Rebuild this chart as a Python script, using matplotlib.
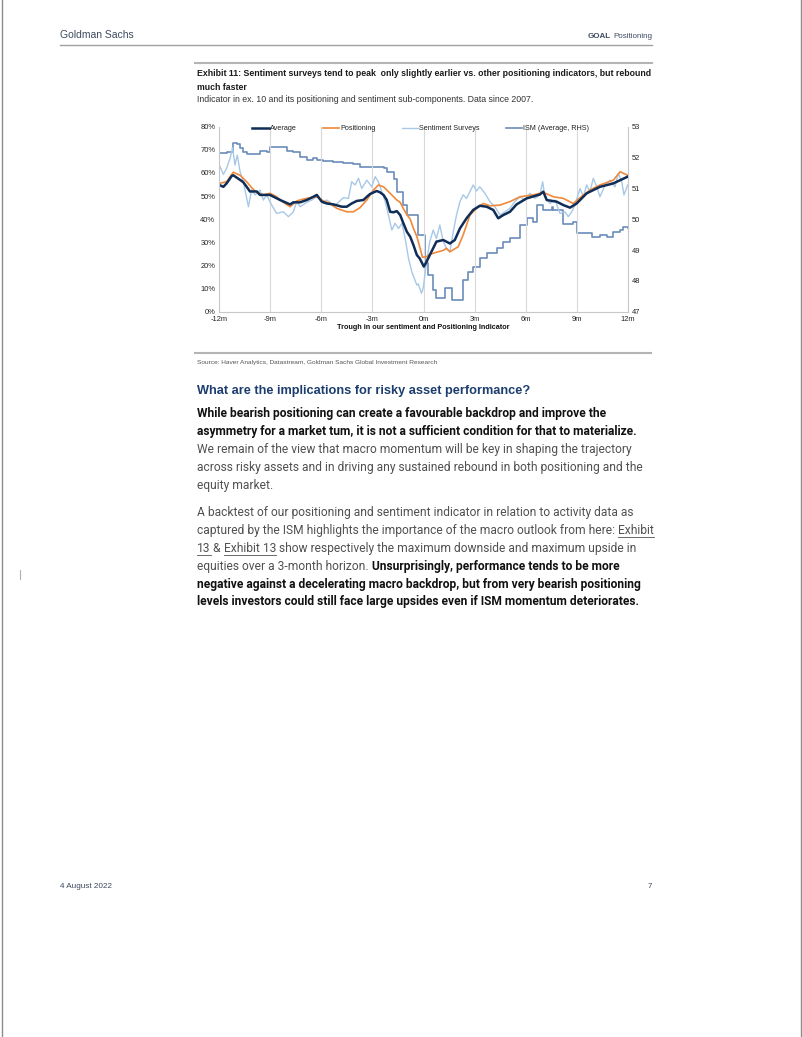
import matplotlib
matplotlib.use('Agg')
import matplotlib.pyplot as plt
from matplotlib.lines import Line2D
from matplotlib.ticker import FuncFormatter

# ---- chart data (months around trough, values) ----
avg_m = [-12.00, -11.76, -11.57, -11.27, -11.18, -10.78, -10.59, -10.39, -10.20, -9.80,
         -9.61, -9.02, -8.43, -7.84, -7.65, -7.25, -6.86, -6.47, -6.27, -5.98,
         -5.69, -5.29, -4.80, -4.51, -4.22, -3.92, -3.53, -3.33, -3.14, -2.75,
         -2.55, -2.35, -2.16, -1.96, -1.76, -1.57, -1.37, -1.18, -0.98, -0.78,
         -0.59, -0.39, -0.22, 0.02, 0.18, 0.37, 0.76, 1.16, 1.55, 1.84,
         2.14, 2.53, 2.92, 3.31, 3.71, 4.10, 4.39, 4.69, 5.08, 5.47,
         6.06, 6.84, 7.04, 7.24, 7.82, 8.22, 8.61, 9.00, 9.59, 10.37,
         11.16, 12.00]
avg_v = [54.8, 54.0, 55.5, 58.7, 59.0, 57.0, 56.0, 54.0, 52.0, 52.0,
         50.5, 50.5, 48.3, 46.4, 47.3, 47.3, 48.3, 49.7, 50.5, 47.6,
         46.8, 46.4, 45.4, 45.4, 46.8, 47.9, 48.3, 49.7, 50.9, 52.2,
         51.6, 50.5, 48.3, 43.2, 43.0, 43.5, 41.8, 38.2, 34.6, 32.4,
         28.8, 24.5, 23.0, 19.5, 21.6, 24.5, 30.3, 31.0, 29.5, 31.0,
         36.0, 40.4, 44.0, 45.8, 45.4, 44.0, 40.4, 41.8, 43.2, 46.4,
         49.0, 50.7, 51.9, 48.3, 47.6, 46.1, 45.0, 46.8, 51.2, 54.0,
         55.5, 58.4]

pos_m = [-12.00, -11.57, -11.18, -10.78, -10.39, -10.10, -9.80, -9.41, -9.02, -8.63,
         -8.24, -7.84, -7.45, -7.06, -6.67, -6.27, -5.88, -5.49, -5.10, -4.51,
         -4.12, -3.73, -3.33, -2.94, -2.65, -2.35, -1.96, -1.57, -1.37, -1.18,
         -0.98, -0.78, -0.59, -0.39, -0.22, -0.06, 0.18, 0.37, 0.76, 1.16,
         1.35, 1.55, 2.04, 2.33, 2.73, 3.12, 3.51, 3.90, 4.49, 5.08,
         5.67, 6.45, 7.04, 7.63, 8.22, 8.80, 9.20, 9.78, 10.37, 11.16,
         11.55, 12.00]
pos_v = [55.5, 56.2, 60.3, 59.0, 56.2, 53.6, 51.6, 50.5, 51.2, 49.7,
         47.3, 45.4, 47.9, 48.7, 49.3, 49.7, 47.9, 46.8, 44.7, 43.2,
         43.2, 45.0, 48.3, 52.6, 54.8, 54.0, 51.2, 48.3, 47.3, 44.5,
         42.0, 40.0, 36.0, 32.5, 28.0, 23.5, 23.8, 24.8, 25.7, 26.5,
         27.4, 25.9, 28.1, 33.2, 41.8, 44.7, 46.8, 45.8, 46.1, 47.6,
         49.7, 50.5, 51.6, 49.7, 49.0, 46.8, 49.3, 52.6, 54.8, 56.9,
         60.5, 59.0]

sent_m = [-12.00, -11.76, -11.57, -11.37, -11.22, -11.08, -10.94, -10.78, -10.59, -10.43,
          -10.29, -10.10, -9.90, -9.61, -9.41, -9.22, -8.92, -8.63, -8.24, -7.94,
          -7.65, -7.45, -7.25, -6.86, -6.57, -6.27, -6.08, -5.88, -5.69, -5.49,
          -5.29, -5.00, -4.71, -4.41, -4.22, -4.02, -3.82, -3.63, -3.33, -3.04,
          -2.84, -2.65, -2.45, -2.25, -2.06, -1.86, -1.67, -1.47, -1.27, -1.08,
          -0.88, -0.69, -0.39, -0.31, -0.12, -0.02, 0.18, 0.37, 0.57, 0.76,
          0.96, 1.16, 1.35, 1.55, 1.75, 1.94, 2.14, 2.33, 2.53, 2.73,
          2.92, 3.12, 3.31, 3.61, 3.90, 4.20, 4.49, 4.78, 5.08, 5.37,
          5.67, 5.96, 6.25, 6.55, 6.84, 7.00, 7.14, 7.43, 7.73, 8.02,
          8.31, 8.51, 8.71, 8.90, 9.20, 9.39, 9.59, 9.78, 9.98, 10.18,
          10.37, 10.67, 10.96, 11.25, 11.45, 11.65, 11.78, 12.00]
sent_v = [63.4, 59.4, 62.0, 66.3, 71.0, 63.4, 67.7, 60.5, 56.2, 50.5,
          45.4, 52.6, 50.5, 52.6, 48.3, 50.5, 46.1, 42.5, 43.2, 41.1,
          43.2, 47.6, 45.4, 47.3, 48.3, 49.7, 49.0, 46.8, 48.3, 47.3,
          45.4, 47.3, 49.3, 49.0, 56.2, 54.8, 57.7, 53.3, 56.9, 54.0,
          58.4, 56.2, 51.9, 47.6, 41.8, 35.3, 38.2, 36.0, 38.2, 31.7,
          23.0, 17.3, 11.5, 12.0, 8.0, 10.0, 21.6, 30.3, 35.3, 31.7,
          37.5, 30.3, 27.4, 25.9, 34.6, 41.8, 47.6, 50.5, 49.0, 51.9,
          54.8, 52.2, 54.0, 51.2, 47.6, 45.4, 41.8, 43.2, 44.7, 47.6,
          49.7, 48.3, 51.2, 49.0, 50.5, 56.2, 49.7, 46.8, 48.3, 42.5,
          43.2, 41.1, 43.2, 46.1, 53.3, 49.7, 54.8, 51.9, 57.7, 54.0,
          49.7, 54.8, 56.9, 54.0, 59.8, 56.2, 50.5, 54.8]

ism_m = [-12.00, -11.57, -11.18, -10.94, -10.78, -10.59, -10.39, -9.61, -9.22, -9.02,
         -8.04, -7.65, -7.25, -6.86, -6.47, -6.27, -5.88, -5.29, -4.71, -4.12,
         -3.73, -2.35, -2.16, -1.76, -1.57, -1.18, -0.98, -0.31, 0.08, 0.27,
         0.57, 0.76, 1.25, 1.65, 2.33, 2.63, 2.92, 3.31, 3.71, 4.29,
         4.69, 5.08, 5.67, 6.06, 6.45, 6.65, 7.04, 7.53, 7.63, 8.22,
         8.80, 9.00, 9.88, 10.37, 10.76, 11.16, 11.55, 11.75, 12.00]
ism_v = [52.14, 52.19, 52.46, 52.43, 52.30, 52.19, 52.10, 52.20, 52.17, 52.33,
         52.20, 52.17, 52.03, 51.92, 51.97, 51.92, 51.89, 51.86, 51.81, 51.78,
         51.70, 51.67, 51.54, 51.32, 50.89, 50.46, 50.14, 49.49, 48.57, 48.19,
         47.70, 47.43, 47.76, 47.38, 48.03, 48.30, 48.46, 48.73, 48.89, 49.05,
         49.27, 49.38, 49.81, 50.03, 49.92, 50.46, 50.30, 50.41, 50.30, 49.86,
         49.92, 49.54, 49.43, 49.49, 49.43, 49.59, 49.65, 49.76, 49.70]

xticks = [-12, -9, -6, -3, 0, 3, 6, 9, 12]
xtick_labels = ['-12m', '-9m', '-6m', '-3m', '0m', '3m', '6m', '9m', '12m']

# ---- page text ----
title_lines = ['Exhibit 11: Sentiment surveys tend to peak  only slightly earlier vs. other positioning indicators, but rebound',
               'much faster']
subtitle = 'Indicator in ex. 10 and its positioning and sentiment sub-components. Data since 2007.'
source = 'Source: Haver Analytics, Datastream, Goldman Sachs Global Investment Research'
heading = 'What are the implications for risky asset performance?'
para1 = [[('While bearish positioning can create a favourable backdrop and improve the', 1, 0)],
         [('asymmetry for a market tum, it is not a sufficient condition for that to materialize.', 1, 0)],
         [('We remain of the view that macro momentum will be key in shaping the trajectory', 0, 0)],
         [('across risky assets and in driving any sustained rebound in both positioning and the', 0, 0)],
         [('equity market.', 0, 0)]]
para2 = [[('A backtest of our positioning and sentiment indicator in relation to activity data as', 0, 0)],
         [('captured by the ISM highlights the importance of the macro outlook from here: ', 0, 0), ('Exhibit', 0, 1)],
         [('13', 0, 1), (' & ', 0, 0), ('Exhibit 13', 0, 1), (' show respectively the maximum downside and maximum upside in', 0, 0)],
         [('equities over a 3-month horizon. ', 0, 0), ('Unsurprisingly, performance tends to be more', 1, 0)],
         [('negative against a decelerating macro backdrop, but from very bearish positioning', 1, 0)],
         [('levels investors could still face large upsides even if ISM momentum deteriorates.', 1, 0)]]

COND = ['Liberation Sans Narrow', 'Liberation Sans', 'DejaVu Sans']
BODY = ['Roboto', 'DejaVu Sans']
CHART = ['Liberation Sans', 'DejaVu Sans']

W, H = 802, 1037
fig = plt.figure(figsize=(W / 100, H / 100), dpi=100)
renderer = fig.canvas.get_renderer()


def fx(x):
    return x / W


def fy(y):
    return 1 - y / H


def fit(text, target, family, weight='normal'):
    t = fig.text(0, 0, text, fontsize=10, family=family, weight=weight)
    w = t.get_window_extent(renderer).width
    t.remove()
    return 10 * target / w


def put(x, y, parts, size, family, color='#505050', bold_color='#111111'):
    for s, b, ul in parts:
        c = bold_color if b else color
        t = fig.text(fx(x), fy(y), s, fontsize=size, family=family,
                     weight='bold' if b else 'normal', color=c, va='baseline')
        bb = t.get_window_extent(renderer)
        if ul:
            fig.add_artist(Line2D([fx(bb.x0), fx(bb.x1)], [fy(y + 2.5)] * 2,
                                  color=c, lw=0.6))
        x = bb.x1


def hline(y, x0, x1, color='#a6a6a6', lw=1.0):
    fig.add_artist(Line2D([fx(x0), fx(x1)], [fy(y), fy(y)], color=color, lw=lw))


# page frame
fig.add_artist(Line2D([fx(1.5), fx(1.5)], [0, 1], color='#8c8c8c', lw=1.0))
fig.add_artist(Line2D([fx(800.5), fx(800.5)], [0, 1], color='#8c8c8c', lw=1.0))
fig.add_artist(Line2D([fx(20), fx(20)], [fy(570), fy(579)], color='#b0b0b0', lw=0.8))

# header / footer
slate = '#3d4b5f'
s_hdr = fit('Goldman Sachs', 74, COND)
fig.text(fx(60), fy(37.5), 'Goldman Sachs', fontsize=s_hdr, family=COND, color=slate, va='baseline')
s_goal = fit('GOAL Positioning', 64, COND)
t = fig.text(fx(652), fy(38), 'Positioning', fontsize=s_goal, family=COND, color=slate,
             va='baseline', ha='right')
bb = t.get_window_extent(renderer)
fig.text(fx(bb.x0 - 2.5), fy(38), 'GOAL', fontsize=s_goal, family=COND, weight='bold',
         color=slate, va='baseline', ha='right')
hline(45, 60, 652, '#a0a0a0', 1.0)
fig.text(fx(60), fy(888.5), '4 August 2022', fontsize=fit('4 August 2022', 52, COND), family=COND,
         color=slate, va='baseline')
fig.text(fx(652), fy(888.5), '7', fontsize=s_goal, family=COND, color=slate, va='baseline', ha='right')

# exhibit title block
hline(63, 195, 652, '#b4b4b4', 1.5)
s_title = fit(title_lines[0], 454, COND, 'bold')
fig.text(fx(197), fy(76.5), title_lines[0], fontsize=s_title, family=COND, weight='bold', color='#1a1a1a', va='baseline')
fig.text(fx(197), fy(89.5), title_lines[1], fontsize=s_title, family=COND, weight='bold', color='#1a1a1a', va='baseline')
fig.text(fx(197), fy(102.5), subtitle, fontsize=fit(subtitle, 338, COND), family=COND, color='#333333', va='baseline')

hline(352.5, 195, 651, '#b4b4b4', 1.5)
fig.text(fx(197), fy(364), source, fontsize=fit(source, 240, COND), family=COND, color='#555555', va='baseline')

# body text
fig.text(fx(197), fy(394), heading, fontsize=fit(heading, 335, COND, 'bold'), family=COND,
         weight='bold', color='#1c3d6e', va='baseline')
s_bold = fit(para1[1][0][0], 451, BODY, 'bold')
s_reg = fit(para1[2][0][0], 429, BODY)
size_body = (s_bold + s_reg) / 2
y = 417.5
for line in para1:
    put(197, y, line, size_body, BODY)
    y += 18
y = 516.5
for line in para2:
    put(197, y, line, size_body, BODY)
    y += 17.8

# ---- chart ----
ax = fig.add_axes([fx(219.3), fy(311.7), (627.7 - 219.3) / W, (311.7 - 126.7) / H])
ax2 = ax.twinx()
ax.set_zorder(ax2.get_zorder() + 1)
ax.patch.set_visible(False)

l_ism, = ax2.plot(ism_m, ism_v, color='#6b8cba', lw=1.2, drawstyle='steps-post', label='ISM (Average, RHS)')
l_sent, = ax.plot(sent_m, sent_v, color='#a7c8e6', lw=1.0, label='Sentiment Surveys')
l_pos, = ax.plot(pos_m, pos_v, color='#f0893a', lw=1.2, label='Positioning')
l_avg, = ax.plot(avg_m, avg_v, color='#0f2d57', lw=1.8, label='Average')

ax.set_xlim(-12, 12)
ax.set_ylim(0, 80)
ax2.set_ylim(47, 53)
ax.set_yticks(range(0, 81, 10))
ax.yaxis.set_major_formatter(FuncFormatter(lambda v, p: '%d%%' % v))
ax2.set_yticks(range(47, 54))
ax.set_xticks(xticks)
ax.set_xticklabels(xtick_labels)
ax.grid(axis='x', color='#d9d9d9', lw=0.8)
ax.set_axisbelow(True)

for a in (ax, ax2):
    a.tick_params(length=0, labelsize=5.4, pad=3)
    for t in a.get_xticklabels() + a.get_yticklabels():
        t.set_family(CHART)
        t.set_color('#222222')
    for sp in a.spines.values():
        sp.set_visible(False)
ax.spines['left'].set_visible(True)
ax.spines['bottom'].set_visible(True)
ax2.spines['right'].set_visible(True)
for sp in (ax.spines['left'], ax.spines['bottom'], ax2.spines['right']):
    sp.set_color('#c8c8c8')
    sp.set_linewidth(0.8)

ax.set_xlabel('Trough in our sentiment and Positioning Indicator', fontsize=5.2, family=CHART,
              weight='bold', labelpad=1, color='#111111')

leg = ax.legend(handles=[l_avg, l_pos, l_sent, l_ism], loc='center left',
                bbox_to_anchor=(0.080, 0.988), ncol=4, frameon=False,
                prop={'family': CHART, 'size': 5.2}, handlelength=2.3,
                handletextpad=0.15, columnspacing=3.6, borderpad=0, borderaxespad=0)
for t in leg.get_texts():
    t.set_color('#222222')

fig.savefig('out.png', dpi=100)
